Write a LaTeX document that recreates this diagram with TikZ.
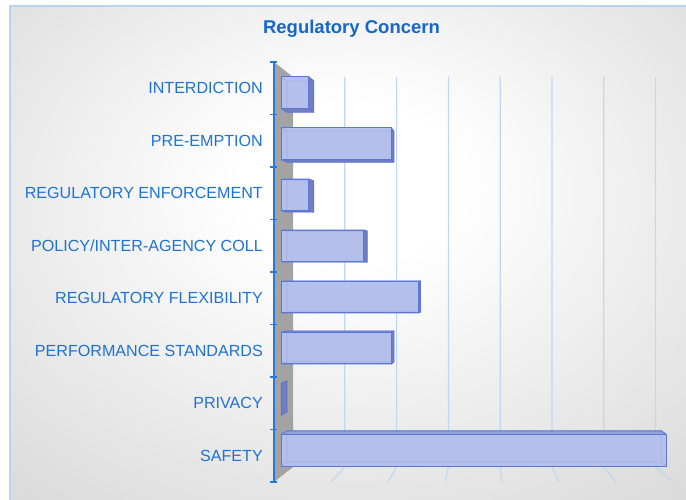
\documentclass[tikz,border=0pt]{standalone}
\usepackage{fontspec}
\setmainfont{Liberation Sans}
\definecolor{txtblue}{RGB}{30,114,212}
\definecolor{titleblue}{RGB}{22,102,204}
\definecolor{axisblue}{RGB}{38,120,218}
\definecolor{gridblue}{RGB}{190,215,246}
\definecolor{borderblue}{RGB}{185,212,242}
\definecolor{wallgray}{RGB}{163,163,163}
\definecolor{barface}{RGB}{180,191,236}
\definecolor{baredge}{RGB}{92,118,214}
\definecolor{barside}{RGB}{114,126,192}
\definecolor{bartop}{RGB}{150,162,218}
\pgfdeclareradialshading{bgshade}{\pgfpoint{0bp}{8bp}}{color(0bp)=(white); color(8bp)=(white); color(45bp)=(black!18); color(72bp)=(black!27)}
\pgfmathdeclarefunction{perx}{2}{\pgfmathparse{(274+57*#1)*(1-#2)+(293+51.8*#1)*#2}}
\pgfmathdeclarefunction{pery}{2}{\pgfmathparse{272+(#1-272)*(1-0.0714*#2)}}
\tikzset{
  lbl/.style={anchor=east, text=txtblue, font=\fontsize{16.1}{19}\selectfont, inner sep=0pt},
  gridln/.style={draw=gridblue, line width=1.2pt},
  sideface/.style={fill=barside, draw=baredge, line width=0.8pt, line join=round},
  topfacestyle/.style={fill=bartop, draw=baredge, line width=0.8pt, line join=round},
  frontfacestyle/.style={fill=barface, draw=baredge, line width=1pt, line join=round},
  ghost/.style={draw=baredge, draw opacity=0.3, line width=0.6pt}
}
\newcommand\myrightface{\path[sideface] (B1)--(B2)--(C2)--(C1)--cycle;}
\newcommand\mytopface{\path[topfacestyle] (A1)--(B1)--(B2)--(A2)--cycle;}
\newcommand\mybottomface{\path[sideface] (D1)--(C1)--(C2)--(D2)--cycle;}
\newcommand\myfrontface{\path[frontfacestyle] (A1)--(B1)--(C1)--(D1)--cycle;}
\begin{document}
\begin{tikzpicture}[x=1pt,y=-1pt]
\useasboundingbox (0,0) rectangle (686,499);
% background
\shade[shading=bgshade] (10,6) rectangle (690,503);
\draw[borderblue, line width=1.6pt] (10,503) -- (10,6) -- (690,6);
% title
\node[font=\bfseries\fontsize{18.5}{22}\selectfont, text=titleblue] (title) at (351.5,29) {Regulatory Concern};
% gridlines
\foreach \v in {1,...,7}{
  \draw[gridln] ({perx(\v,1)},{pery(62,1)}) -- ({perx(\v,1)},{pery(482,1)}) -- ({perx(\v,0)},{pery(482,0)});
}
% side wall
\fill[wallgray] ({perx(0,0)},{pery(62,0)}) -- ({perx(0,1)},{pery(62,1)}) -- ({perx(0,1)},{pery(482,1)}) -- ({perx(0,0)},{pery(482,0)}) -- cycle;
% bars
\foreach \i/\v in {0/0.5,1/2,2/0.5,3/1.5,4/2.5,5/2,6/0,7/7}{
  \pgfmathsetmacro\ya{62+52.5*\i+9.45}
  \pgfmathsetmacro\yb{62+52.5*\i+42}
  \coordinate (A1) at ({perx(0,0.38)},{pery(\ya,0.38)});
  \coordinate (B1) at ({perx(\v,0.38)},{pery(\ya,0.38)});
  \coordinate (C1) at ({perx(\v,0.38)},{pery(\yb,0.38)});
  \coordinate (D1) at ({perx(0,0.38)},{pery(\yb,0.38)});
  \coordinate (A2) at ({perx(0,0.68)},{pery(\ya,0.68)});
  \coordinate (B2) at ({perx(\v,0.68)},{pery(\ya,0.68)});
  \coordinate (C2) at ({perx(\v,0.68)},{pery(\yb,0.68)});
  \coordinate (D2) at ({perx(0,0.68)},{pery(\yb,0.68)});
  \pgfmathsetmacro\xr{perx(\v,0.38)}
  \pgfmathsetmacro\ym{(\ya+\yb)/2}
  \fill[barside] (A2)--(B2)--(C2)--(D2)--cycle;
  \ifdim\xr pt>482pt \myrightface\fi
  \ifdim\ym pt<272pt \mytopface\else\mybottomface\fi
  \ifdim\xr pt>482pt \else\myrightface\fi
  \ifdim\ym pt<272pt \mybottomface\else\mytopface\fi
  \myfrontface
  \draw[ghost] (A2)--(B2)--(C2)--(D2)--cycle (A1)--(A2) (B1)--(B2) (C1)--(C2) (D1)--(D2);
}
% axis
\draw[axisblue, line width=2.2pt] (274,62) -- (274,482);
\foreach \k in {0,...,8}{
  \draw[axisblue, line width=1.6pt] (270,{62+52.5*\k}) -- (277,{62+52.5*\k});
}
% labels
\node[lbl] (c0) at (263,88.25) {INTERDICTION};
\node[lbl] (c1) at (263,140.75) {PRE-EMPTION};
\node[lbl] (c2) at (263,193.25) {REGULATORY ENFORCEMENT};
\node[lbl] (c3) at (263,245.75) {POLICY/INTER-AGENCY COLL};
\node[lbl] (c4) at (263,298.25) {REGULATORY FLEXIBILITY};
\node[lbl] (c5) at (263,350.75) {PERFORMANCE STANDARDS};
\node[lbl] (c6) at (263,403.25) {PRIVACY};
\node[lbl] (c7) at (263,455.75) {SAFETY};
\end{tikzpicture}
\end{document}
